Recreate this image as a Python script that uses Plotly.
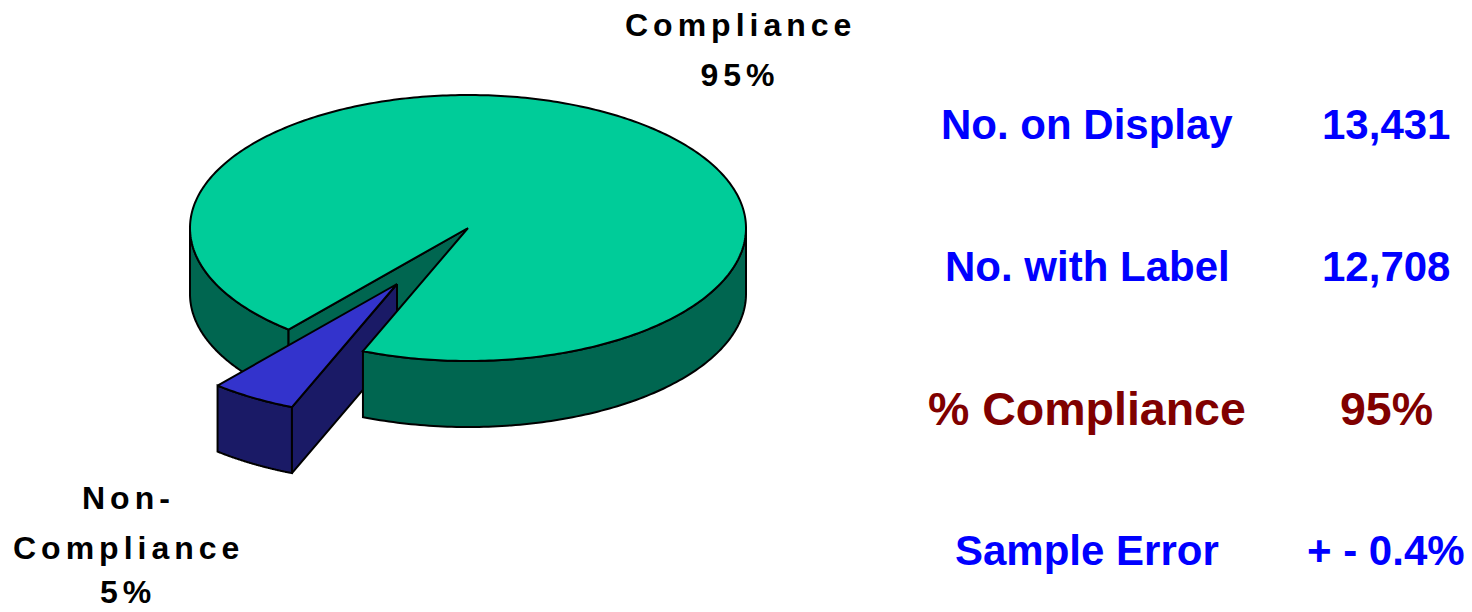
import numpy as np
import plotly.graph_objects as go

categories = ["Compliance", "Non-Compliance"]
values = [95, 5]
compliance_label = ["Compliance", "95%"]
noncompliance_label = ["Non-", "Compliance", "5%"]
summary_names = ["No. on Display", "No. with Label", "% Compliance", "Sample Error"]
summary_values = ["13,431", "12,708", "95%", "+ - 0.4%"]
summary_colors = ["#0000FF", "#0000FF", "#800000", "#0000FF"]
summary_sizes = [42, 42, 46.5, 42]

W, H = 1472, 612
CX, CY, RX, RY, DEPTH = 468, 228, 278, 133, 66
START = 22.2
EXPLODE = (-71, 56)
TOP_G, SIDE_G = "#00CC99", "#006650"
TOP_B, SIDE_B = "#3333CC", "#1A1A66"

fig = go.Figure()


def arc(a, b, off=(0, 0), dz=0, n=120):
    t = np.radians(np.linspace(a, b, n))
    return CX + off[0] - RX * np.sin(t), CY + off[1] + dz + RY * np.cos(t)


def poly(x, y, color):
    x = list(x) + [x[0]]
    y = list(y) + [y[0]]
    fig.add_trace(go.Scatter(x=x, y=y, mode="lines", fill="toself", fillcolor=color,
                             line=dict(color="black", width=2, simplify=False),
                             hoverinfo="skip", showlegend=False))


def rim(a, b, color, off=(0, 0)):
    x1, y1 = arc(a, b, off)
    x2, y2 = arc(b, a, off, DEPTH)
    poly(np.r_[x1, x2], np.r_[y1, y2], color)


def wall(phi, color, off=(0, 0)):
    x, y = arc(phi, phi, off, n=1)
    ax, ay = CX + off[0], CY + off[1]
    poly([ax, x[0], x[0], ax], [ay, y[0], y[0] + DEPTH, ay + DEPTH], color)


total = sum(values)
sweep_b = 360 * values[1] / total
sweep_g = 360 * values[0] / total
b0, b1 = START, START + sweep_b

rim(b1, 90, SIDE_G)
wall(b1, SIDE_G)

rim(b0, b1, SIDE_B, EXPLODE)
wall(b0, SIDE_B, EXPLODE)
x, y = arc(b0, b1, EXPLODE, n=30)
poly(np.r_[CX + EXPLODE[0], x], np.r_[CY + EXPLODE[1], y], TOP_B)

rim(270, 360 + b0, SIDE_G)
x, y = arc(b1, b1 + sweep_g, n=400)
poly(np.r_[CX, x], np.r_[CY, y], TOP_G)

annotations = []


def add_text(txt, xpos, ypos, size, color):
    annotations.append(dict(x=xpos, y=ypos, text=txt, showarrow=False, xanchor="center", yanchor="middle",
                            font=dict(family="Liberation Sans, Arial, sans-serif", size=size, color=color, weight=700)))


for i, line in enumerate(compliance_label):
    add_text(line, 740, 25 + 50 * i, 32, "black")
for line, yy in zip(noncompliance_label, [498, 548, 592]):
    add_text(line, 128, yy, 32, "black")

rows_y = [124, 266, 409, 550]
for name, val, col, sz, yy in zip(summary_names, summary_values, summary_colors, summary_sizes, rows_y):
    add_text(name, 1087, yy, sz, col)
    add_text(val, 1386, yy, sz, col)

fig.update_layout(width=W, height=H, margin=dict(l=0, r=0, t=0, b=0), paper_bgcolor="white", plot_bgcolor="white",
                  xaxis=dict(range=[0, W], visible=False, fixedrange=True),
                  yaxis=dict(range=[H, 0], visible=False, fixedrange=True),
                  annotations=annotations, showlegend=False)

post = """
document.body.style.margin = '0';
document.documentElement.style.overflow = 'hidden';
var spaced = new Set(['Compliance','95%','Non-','5%']);
document.querySelectorAll('.annotation-text').forEach(function(t){
  if (spaced.has(t.textContent) && parseFloat(t.style.fontSize) < 40) { t.style.letterSpacing = '5px'; }
});
"""
fig.write_html("out.html", post_script=post, config={"displayModeBar": False})
